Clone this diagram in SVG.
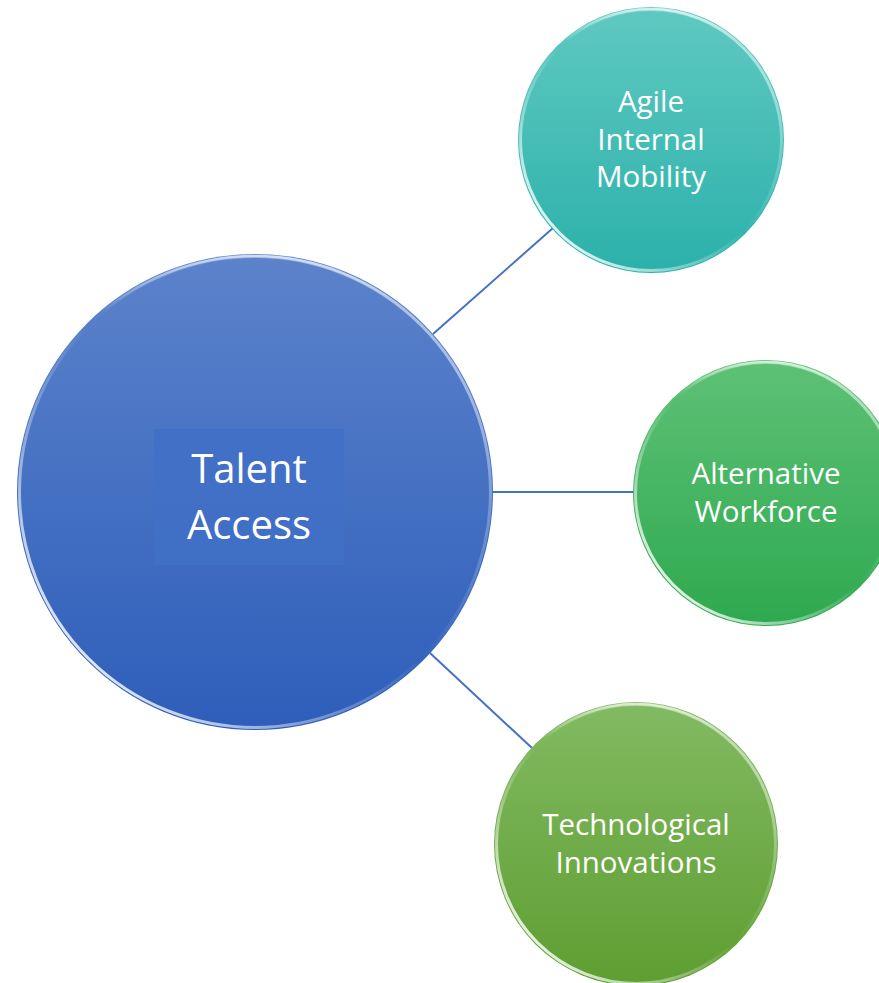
<svg xmlns="http://www.w3.org/2000/svg" width="879" height="983" viewBox="0 0 879 983">
  <defs>
    <linearGradient id="gBlue" x1="0" y1="0" x2="0" y2="1">
      <stop offset="0" stop-color="#5C83CB"/>
      <stop offset="1" stop-color="#2E5EBA"/>
    </linearGradient>
    <linearGradient id="gTeal" x1="0" y1="0" x2="0" y2="1">
      <stop offset="0" stop-color="#5FC9C1"/>
      <stop offset="1" stop-color="#2BB1AA"/>
    </linearGradient>
    <linearGradient id="gGreen" x1="0" y1="0" x2="0" y2="1">
      <stop offset="0" stop-color="#5EC176"/>
      <stop offset="1" stop-color="#2EA94F"/>
    </linearGradient>
    <linearGradient id="gLime" x1="0" y1="0" x2="0" y2="1">
      <stop offset="0" stop-color="#82BA62"/>
      <stop offset="1" stop-color="#5E9E31"/>
    </linearGradient>
    <!-- glossy bevel rim: bright at lower-left and upper-right -->
    <linearGradient id="gRim" x1="0" y1="1" x2="1" y2="0">
      <stop offset="0.1" stop-color="#FFFFFF" stop-opacity="0.95"/>
      <stop offset="0.3" stop-color="#FFFFFF" stop-opacity="0.4"/>
      <stop offset="0.5" stop-color="#FFFFFF" stop-opacity="0"/>
      <stop offset="0.72" stop-color="#FFFFFF" stop-opacity="0.25"/>
      <stop offset="0.92" stop-color="#FFFFFF" stop-opacity="0.65"/>
    </linearGradient>
    <linearGradient id="gRimTop" x1="0" y1="0" x2="0" y2="1">
      <stop offset="0" stop-color="#FFFFFF" stop-opacity="0.6"/>
      <stop offset="0.12" stop-color="#FFFFFF" stop-opacity="0"/>
      <stop offset="1" stop-color="#FFFFFF" stop-opacity="0"/>
    </linearGradient>
  </defs>
  <style>
    .rim { fill: none; stroke: url(#gRim); stroke-width: 3; }
    .rimTop { fill: none; stroke: url(#gRimTop); stroke-width: 2.5; }
    .lbl { font-family: "Open Sans", "Noto Sans", sans-serif; fill: #FFFFFF; text-anchor: middle; }
    .big { font-size: 40px; }
    .small { font-size: 29.5px; }
    .conn { stroke: #4472C4; stroke-width: 2; fill: none; }
  </style>

  <rect width="879" height="983" fill="#FFFFFF"/>

  <g id="connectors">
    <line class="conn" x1="433" y1="334" x2="553" y2="228"/>
    <line class="conn" x1="493" y1="492" x2="634" y2="492"/>
    <line class="conn" x1="430" y1="653" x2="532" y2="748"/>
  </g>

  <g id="talent-access">
    <circle cx="255" cy="492" r="238" fill="url(#gBlue)"/>
    <circle class="rim" cx="255" cy="492" r="235.5"/>
    <circle class="rimTop" cx="255" cy="492" r="236"/>
    <rect x="154" y="429" width="190" height="136" fill="#4170C7" opacity="0.85"/>
    <text class="lbl big" x="249" y="483">Talent</text>
    <text class="lbl big" x="249" y="539">Access</text>
  </g>

  <g id="agile-internal-mobility">
    <circle cx="651" cy="140" r="133" fill="url(#gTeal)"/>
    <circle class="rim" cx="651" cy="140" r="130.5"/>
    <circle class="rimTop" cx="651" cy="140" r="131"/>
    <text class="lbl small" x="651" y="112">Agile</text>
    <text class="lbl small" x="651" y="150">Internal</text>
    <text class="lbl small" x="651" y="187">Mobility</text>
  </g>

  <g id="alternative-workforce">
    <circle cx="766" cy="493" r="133" fill="url(#gGreen)"/>
    <circle class="rim" cx="766" cy="493" r="130.5"/>
    <circle class="rimTop" cx="766" cy="493" r="131"/>
    <text class="lbl small" x="766" y="484">Alternative</text>
    <text class="lbl small" x="766" y="522">Workforce</text>
  </g>

  <g id="technological-innovations">
    <circle cx="636" cy="844" r="142" fill="url(#gLime)"/>
    <circle class="rim" cx="636" cy="844" r="139.5"/>
    <circle class="rimTop" cx="636" cy="844" r="140"/>
    <text class="lbl small" x="636" y="835">Technological</text>
    <text class="lbl small" x="636" y="873">Innovations</text>
  </g>
</svg>
